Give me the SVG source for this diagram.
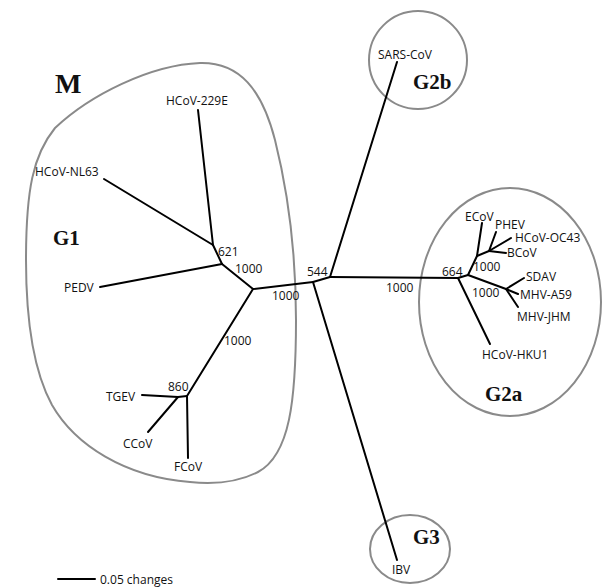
<svg xmlns="http://www.w3.org/2000/svg" width="608" height="587" viewBox="0 0 608 587">
<style>
.bg{fill:#fff}
.clade{fill:none;stroke:#8a8a8a;stroke-width:2}
.br line{stroke:#000;stroke-width:2;stroke-linecap:round}
.lab{font-family:"Open Sans","Liberation Sans",sans-serif;font-size:12px;fill:#111}
.boot{font-family:"Open Sans","Liberation Sans",sans-serif;font-size:12px;fill:#111}
.grp{font-family:"Liberation Serif","DejaVu Serif",serif;font-weight:bold;font-size:21px;fill:#111}
</style>
<rect class="bg" x="0" y="0" width="608" height="587"/>
<g id="clades">
<g id="clade-M">
<path class="clade" d="M200,63 C240,62 262,90 275,140 C290,200 296,260 296,320 C296,400 290,455 258,472 C235,484 210,484 190,482 C125,477 75,445 52,405 C34,372 26,320 26,260 C26,190 33,155 55,128 C90,95 150,65 200,63 Z"/>
<text class="grp" x="55" y="93" style="font-size:28px">M</text>
<text class="grp" x="53" y="245">G1</text>
</g>
<g id="clade-G2b">
<circle class="clade" cx="418" cy="60" r="49"/>
<text class="grp" x="413" y="89">G2b</text>
</g>
<g id="clade-G2a">
<ellipse class="clade" cx="510" cy="302" rx="91" ry="114"/>
<text class="grp" x="485" y="401">G2a</text>
</g>
<g id="clade-G3">
<ellipse class="clade" cx="410" cy="549" rx="40" ry="34"/>
<text class="grp" x="413" y="544">G3</text>
</g>
</g>
<g id="connectors" class="br">
<line x1="198" y1="110" x2="213" y2="245"/>
<line x1="104" y1="179" x2="213" y2="245"/>
<line x1="213" y1="245" x2="222" y2="264"/>
<line x1="100" y1="287" x2="222" y2="264"/>
<line x1="222" y1="264" x2="253" y2="289"/>
<line x1="253" y1="289" x2="313" y2="282"/>
<line x1="253" y1="289" x2="187" y2="396"/>
<line x1="142" y1="395" x2="178" y2="397"/>
<line x1="178" y1="397" x2="187" y2="396"/>
<line x1="178" y1="397" x2="148" y2="432"/>
<line x1="187" y1="396" x2="188" y2="458"/>
<line x1="313" y1="282" x2="330" y2="277"/>
<line x1="313" y1="282" x2="397" y2="560"/>
<line x1="330" y1="277" x2="397" y2="62"/>
<line x1="330" y1="277" x2="458" y2="278"/>
<line x1="458" y1="278" x2="490" y2="344"/>
<line x1="458" y1="278" x2="468" y2="275"/>
<line x1="468" y1="275" x2="477" y2="256"/>
<line x1="477" y1="256" x2="482" y2="223"/>
<line x1="477" y1="256" x2="489" y2="251"/>
<line x1="489" y1="251" x2="496" y2="232"/>
<line x1="489" y1="251" x2="511" y2="238"/>
<line x1="489" y1="251" x2="506" y2="253"/>
<line x1="468" y1="275" x2="506" y2="289"/>
<line x1="506" y1="289" x2="524" y2="278"/>
<line x1="506" y1="289" x2="518" y2="294"/>
<line x1="506" y1="289" x2="518" y2="307"/>
<line x1="58" y1="579" x2="95" y2="579"/>
</g>
<g id="leaves">
<g id="n-229E"><text class="lab" x="166" y="105">HCoV-229E</text></g>
<g id="n-NL63"><text class="lab" x="35" y="176">HCoV-NL63</text></g>
<g id="n-PEDV"><text class="lab" x="64" y="292">PEDV</text></g>
<g id="n-TGEV"><text class="lab" x="106" y="401">TGEV</text></g>
<g id="n-CCoV"><text class="lab" x="123" y="448">CCoV</text></g>
<g id="n-FCoV"><text class="lab" x="174" y="471">FCoV</text></g>
<g id="n-SARS"><text class="lab" x="378" y="59">SARS-CoV</text></g>
<g id="n-IBV"><text class="lab" x="392" y="574">IBV</text></g>
<g id="n-ECoV"><text class="lab" x="465" y="221">ECoV</text></g>
<g id="n-PHEV"><text class="lab" x="495" y="229">PHEV</text></g>
<g id="n-OC43"><text class="lab" x="515" y="242">HCoV-OC43</text></g>
<g id="n-BCoV"><text class="lab" x="507" y="257">BCoV</text></g>
<g id="n-SDAV"><text class="lab" x="526" y="281">SDAV</text></g>
<g id="n-A59"><text class="lab" x="520" y="299">MHV-A59</text></g>
<g id="n-JHM"><text class="lab" x="517" y="321">MHV-JHM</text></g>
<g id="n-HKU1"><text class="lab" x="482" y="359">HCoV-HKU1</text></g>
</g>
<g id="bootstrap">
<text class="boot" x="218" y="256">621</text>
<text class="boot" x="235" y="273">1000</text>
<text class="boot" x="272" y="300">1000</text>
<text class="boot" x="224" y="345">1000</text>
<text class="boot" x="168" y="391">860</text>
<text class="boot" x="307" y="276">544</text>
<text class="boot" x="386" y="292">1000</text>
<text class="boot" x="442" y="276">664</text>
<text class="boot" x="473" y="271">1000</text>
<text class="boot" x="472" y="297">1000</text>
</g>
<g id="scale"><text class="lab" x="100" y="584">0.05 changes</text></g>
</svg>
